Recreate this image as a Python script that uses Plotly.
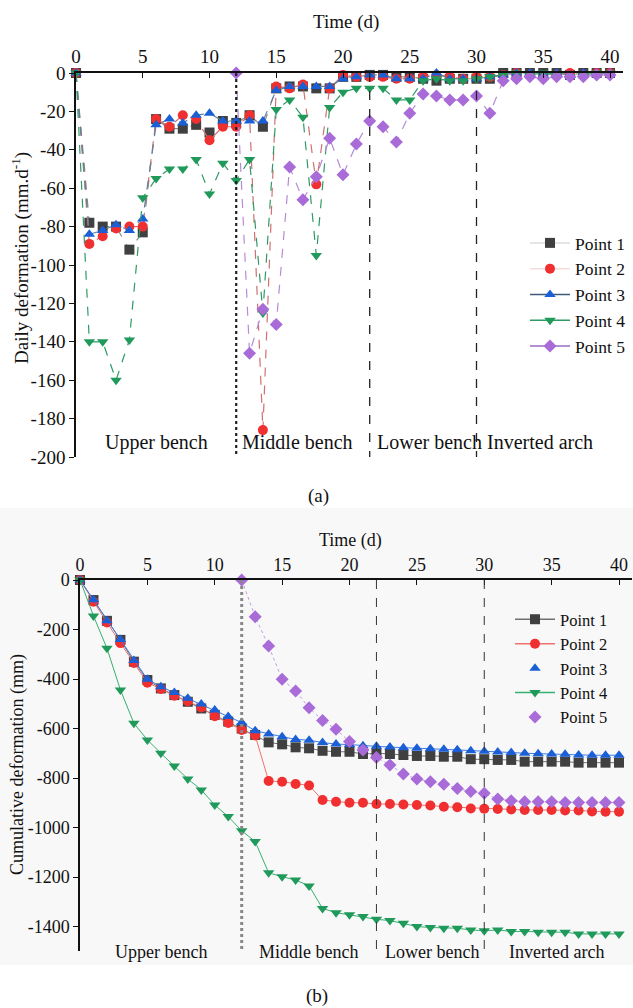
import plotly.graph_objects as go

W, H = 633, 1008

# ---------------- data ----------------
days = list(range(0, 41))
days5 = list(range(12, 41))

daily_p1 = [0, -78, -80, -80, -92, -83, -24, -29, -29, -27, -31, -25, -26, -22, -28,
            -8, -7, -7, -8, -8, -2, -2, -1, -1, -2, -2, -3, -4, -3, -3, -3, -3,
            0, 0, 0, 0, 0, -1, 0, 0, 0]
daily_p2 = [0, -89, -85, -81, -80, -80, -24, -28, -22, -24, -35, -28, -28, -22, -186,
            -7, -8, -6, -58, -8, -1, -2, -2, -2, -3, -3, -2, -1, -2, -3, -2, -2,
            -1, 0, 1, 1, -1, 0, -1, 0, 0]
daily_p3 = [0, -84, -82, -79, -82, -76, -27, -24, -26, -22, -21, -25, -25, -25, -25,
            -9, -7, -7, -7, -7, -3, -2, -1, -1, -3, -3, -3, 0, -3, -3, -3, -2,
            -1, 0, 0, -1, 0, -1, 0, 0, 0]
daily_p4 = [0, -140, -140, -160, -139, -65, -55, -50, -50, -45, -63, -47, -56, -45, -125,
            -19, -14, -23, -95, -18, -10, -8, -8, -8, -14, -14, -4, -3, -4, -4, -3, -2,
            -1, 0, -1, 0, -1, -2, -1, 0, 0]
daily_p5 = [0, -146, -123, -131, -49, -66, -54, -34, -53, -37, -25, -28, -36, -21,
            -11, -12, -14, -14, -12, -21, -4, -3, -2, -3, -2, -2, -2, -1, -1]

cum_p1 = [0, -81, -165, -242, -330, -404, -438, -465, -492, -519, -545, -572, -600, -626,
          -656, -664, -676, -680, -690, -694, -694, -703, -700, -703, -707, -711, -711,
          -714, -714, -724, -724, -727, -727, -734, -734, -734, -734, -738, -738, -738, -738]
cum_p2 = [0, -88, -172, -255, -335, -415, -440, -468, -490, -515, -550, -578, -606, -628,
          -812, -815, -824, -830, -889, -896, -900, -900, -905, -905, -907, -909, -911,
          -916, -918, -923, -924, -925, -927, -929, -929, -929, -931, -931, -935, -936, -936]
cum_p3 = [0, -80, -165, -240, -325, -401, -431, -455, -478, -501, -525, -552, -576, -609,
          -622, -633, -644, -647, -657, -663, -665, -670, -672, -675, -678, -680, -682,
          -684, -686, -690, -692, -695, -697, -700, -702, -703, -704, -707, -708, -708, -708]
cum_p4 = [0, -145, -276, -444, -579, -646, -700, -752, -804, -848, -909, -956, -1013, -1057,
          -1183, -1199, -1212, -1236, -1327, -1344, -1353, -1360, -1371, -1376, -1387, -1400,
          -1404, -1407, -1407, -1414, -1417, -1414, -1420, -1420, -1423, -1423, -1423,
          -1430, -1430, -1430, -1430]
cum_p5 = [0, -148, -267, -401, -448, -516, -568, -603, -653, -687, -717, -747, -784, -804,
          -815, -825, -842, -855, -862, -885, -892, -896, -896, -896, -899, -899, -899, -899, -899]

names = ["Point 1", "Point 2", "Point 3", "Point 4", "Point 5"]
stage_days = [12, 22, 30]
stage_labels = ["Upper bench", "Middle bench", "Lower bench", "Inverted arch"]
x_ticks = [0, 5, 10, 15, 20, 25, 30, 35, 40]
ya_ticks = [0, -20, -40, -60, -80, -100, -120, -140, -160, -180, -200]
yb_ticks = [0, -200, -400, -600, -800, -1000, -1200, -1400]

# ---------------- styles ----------------
FONT = "Liberation Serif, Times New Roman, serif"
mcol = ["#404040", "#f03030", "#1a5fd6", "#1f9a5a", "#a86bd8"]
syms = ["square", "circle", "triangle-up", "triangle-down", "diamond"]
lcol_a = ["#8a8a8a", "#d07070", "#6080a0", "#2f9a66", "#b58ad8"]
leg_a = ["#dddddd", "#f2dede", "#3c5a7a", "#2f9a66", "#9a6cc0"]
lcol_b = ["#707070", "#f07070", "#3f7be0", "#35b070", "#c29ae6"]


def px(x):
    return x / W


def py(y):
    return 1 - y / H


fig = go.Figure()

daily = [daily_p1, daily_p2, daily_p3, daily_p4, daily_p5]
cum = [cum_p1, cum_p2, cum_p3, cum_p4, cum_p5]

for i in range(5):
    xs = days5 if i == 4 else days
    fig.add_trace(go.Scatter(
        x=xs, y=daily[i], name=names[i], mode="lines+markers",
        xaxis="x", yaxis="y", showlegend=False, cliponaxis=False,
        line=dict(color=lcol_a[i], width=1.2, dash="dash"),
        marker=dict(symbol=syms[i], size=10, color=mcol[i]),
    ))
    fig.add_trace(go.Scatter(
        x=[None], y=[None], name=names[i], mode="lines+markers",
        xaxis="x", yaxis="y", legend="legend",
        line=dict(color=leg_a[i], width=1.5),
        marker=dict(symbol=syms[i], size=10, color=mcol[i]),
    ))

for i in range(5):
    xs = days5 if i == 4 else days
    fig.add_trace(go.Scatter(
        x=xs, y=cum[i], name=names[i], mode="lines+markers",
        xaxis="x2", yaxis="y2", showlegend=False, cliponaxis=False,
        line=dict(color=lcol_b[i], width=1, dash="dot" if i == 4 else "solid"),
        marker=dict(symbol=syms[i], size=10, color=mcol[i]),
    ))
    fig.add_trace(go.Scatter(
        x=[None], y=[None], name=names[i],
        mode="markers" if i in (2, 4) else "lines+markers",
        xaxis="x2", yaxis="y2", legend="legend2",
        line=dict(color=lcol_b[i], width=1.5),
        marker=dict(symbol=syms[i], size=10, color=mcol[i]),
    ))


def axis_common(size):
    return dict(showgrid=False, zeroline=False, showline=True, linecolor="#111",
                tickfont=dict(family=FONT, size=size, color="#111"), ticklen=5,
                tickcolor="#111", automargin=False)


def hy(vals):
    return [str(v) for v in vals]


fig.update_layout(
    width=W, height=H, margin=dict(l=0, r=0, t=0, b=0, autoexpand=False),
    paper_bgcolor="white", plot_bgcolor="rgba(0,0,0,0)",
    font=dict(family=FONT, size=19, color="#111"),
    xaxis=dict(domain=[px(76), px(76 + 41 * 13.35)], range=[0, 41], side="top",
               anchor="y", tickvals=x_ticks, ticktext=hy(x_ticks), ticks="inside",
               linewidth=2, **axis_common(19)),
    yaxis=dict(domain=[py(457), py(73)], range=[-200, 0], anchor="x",
               tickvals=ya_ticks, ticktext=hy(ya_ticks), ticks="outside",
               linewidth=1.5, **axis_common(19)),
    xaxis2=dict(domain=[px(80), px(80 + 41 * 13.475)], range=[0, 41], side="top",
                anchor="y2", tickvals=x_ticks, ticktext=hy(x_ticks), ticks="inside",
                linewidth=2, **axis_common(18)),
    yaxis2=dict(domain=[py(580 + 1500 * 0.2475), py(580)], range=[-1500, 0], anchor="x2",
                tickvals=yb_ticks, ticktext=hy(yb_ticks), ticks="outside",
                linewidth=1.5, **axis_common(18)),
    legend=dict(x=px(525), y=py(225), xanchor="left", yanchor="top",
                bgcolor="rgba(0,0,0,0)", font=dict(family=FONT, size=17.5),
                itemwidth=40, tracegroupgap=0),
    legend2=dict(x=px(510), y=py(602), xanchor="left", yanchor="top",
                 bgcolor="rgba(0,0,0,0)", font=dict(family=FONT, size=16.5),
                 itemwidth=40, tracegroupgap=0),
)

shapes = [dict(type="rect", xref="paper", yref="paper", x0=0, x1=1, y0=py(965), y1=py(508),
               fillcolor="#f8f8f8", line=dict(width=0), layer="below")]
for k, d in enumerate(stage_days):
    shapes.append(dict(type="line", xref="x", yref="y", x0=d, x1=d, y0=0, y1=-200,
                       line=dict(color="#222", width=2.2 if k == 0 else 1.3,
                                 dash="dot" if k == 0 else "dash")))
    shapes.append(dict(type="line", xref="x2", yref="y2", x0=d, x1=d, y0=0, y1=-1500,
                       line=dict(color="#888" if k == 0 else "#333",
                                 width=3 if k == 0 else 1, dash="dot" if k == 0 else "dash")))
fig.update_layout(shapes=shapes)

ann = []


def txt(t, x, y, size=19, xanchor="center", angle=0):
    ann.append(dict(text=t, x=px(x), y=py(y), xref="paper", yref="paper",
                    xanchor=xanchor, yanchor="middle", showarrow=False, textangle=angle,
                    font=dict(family=FONT, size=size, color="#111")))


txt("Time (d)", 346, 22)
txt("Time (d)", 350, 540, size=18)
txt("Daily deformation (mm.d<sup>-1</sup>)", 20, 258, angle=-90)
txt("Cumulative deformation (mm)", 17, 765, size=18, angle=-90)
for lab, xl in zip(stage_labels, [103, 240, 375, 485]):
    txt(lab, xl, 442, size=20, xanchor="left")
for lab, xl in zip(stage_labels, [113, 257, 383, 507]):
    txt(lab, xl, 952, size=18, xanchor="left")
txt("(a)", 318, 496, size=19)
txt("(b)", 317, 996, size=19)
fig.update_layout(annotations=ann)

# remove the browser's default 8px page margin so the 633x1008 figure fills the window
fig.write_html("out.html",
               config={"displayModeBar": False},
               post_script="document.body.style.margin='0px';document.body.style.overflow='hidden';")
